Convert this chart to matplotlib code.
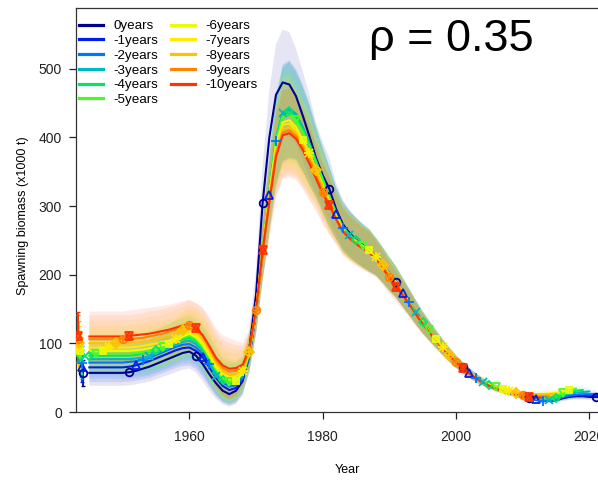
import numpy as np
import matplotlib
matplotlib.use("Agg")
import matplotlib.pyplot as plt
from matplotlib.lines import Line2D

plt.rcParams['font.family'] = ['Liberation Sans', 'DejaVu Sans']

# ---------------- data ----------------
start_year = 1945
labels = ["0years", "-1years", "-2years", "-3years", "-4years", "-5years",
          "-6years", "-7years", "-8years", "-9years", "-10years"]

sb_0 = [57, 57, 57, 57, 57, 57, 58, 60, 63, 66,
        70, 74, 78, 82, 86, 88, 82, 70, 55, 42,
        31, 26, 31, 45, 92, 170, 305, 400, 462, 480,
        477, 460, 432, 402, 370, 345, 325, 296, 274, 261,
        251, 243, 236, 227, 215, 202, 190, 175, 160, 145,
        131, 119, 107, 95, 84, 74, 65, 57, 50, 44,
        39, 35, 31, 28, 25, 22, 20, 18, 16, 16,
        17, 20, 22, 23, 23, 22, 22, 22, 22]
sb_m1 = [65, 65, 65, 65, 65, 65, 66, 68, 71, 74,
         78, 82, 86, 90, 93, 94, 89, 80, 65, 50,
         38, 32, 35, 47, 80, 145, 232, 316, 390, 432,
         440, 432, 412, 388, 362, 336, 312, 289, 272, 260,
         250, 242, 235, 226, 214, 201, 189, 174, 159, 144,
         130, 118, 106, 94, 83, 73, 64, 57, 50, 44,
         39, 35, 31, 28, 25, 22, 20, 19, 17, 17,
         18, 21, 23, 24, 24, 24, 24, 24]
sb_m2 = [72, 72, 72, 72, 72, 72, 73, 74, 76, 79,
         83, 87, 91, 95, 98, 99, 94, 84, 70, 55,
         43, 37, 39, 50, 82, 146, 234, 318, 395, 436,
         442, 434, 414, 390, 364, 338, 313, 290, 268, 259,
         250, 242, 235, 226, 214, 201, 189, 174, 160, 145,
         130, 118, 106, 94, 83, 73, 64, 57, 50, 44,
         39, 35, 31, 28, 25, 22, 20, 18, 16, 17,
         19, 22, 24, 25, 26, 26, 26]
sb_m3 = [77, 77, 77, 77, 77, 77, 77, 78, 79, 81,
         85, 89, 94, 98, 102, 104, 99, 89, 72, 53,
         44, 41, 43, 53, 84, 147, 236, 320, 398, 436,
         441, 434, 415, 392, 366, 340, 315, 291, 270, 258,
         250, 242, 235, 226, 214, 201, 189, 174, 160, 145,
         131, 118, 106, 95, 84, 74, 65, 57, 50, 44,
         39, 35, 31, 28, 25, 23, 21, 19, 18, 18,
         21, 24, 27, 28, 29, 30]
sb_m4 = [82, 82, 82, 82, 82, 82, 82, 83, 85, 88,
         91, 95, 99, 103, 106, 108, 103, 92, 76, 60,
         47, 43, 45, 55, 86, 148, 237, 321, 398, 435,
         438, 430, 412, 390, 365, 339, 314, 290, 270, 258,
         250, 242, 235, 226, 214, 201, 189, 175, 160, 145,
         131, 119, 107, 95, 84, 74, 65, 57, 50, 44,
         39, 35, 32, 29, 26, 24, 22, 20, 19, 19,
         20, 25, 28, 31, 32]
sb_m5 = [85, 85, 85, 85, 85, 85, 85, 86, 87, 89,
         91, 94, 99, 104, 108, 111, 106, 95, 79, 62,
         49, 44, 46, 56, 86, 148, 237, 320, 396, 430,
         434, 425, 408, 387, 363, 338, 313, 289, 269, 257,
         249, 242, 235, 226, 214, 201, 189, 175, 160, 145,
         131, 119, 107, 95, 84, 74, 65, 57, 50, 45,
         40, 36, 33, 30, 27, 25, 23, 22, 21, 21,
         24, 28, 31, 34]
sb_m6 = [89, 89, 89, 89, 89, 89, 89, 90, 91, 93,
         95, 97, 99, 104, 110, 114, 109, 98, 82, 65,
         52, 47, 45, 57, 87, 148, 237, 318, 390, 422,
         425, 415, 396, 376, 354, 331, 308, 286, 268, 256,
         248, 241, 236, 226, 214, 201, 189, 174, 159, 144,
         130, 118, 107, 95, 84, 74, 65, 57, 50, 45,
         40, 36, 33, 30, 28, 26, 25, 24, 24, 25,
         27, 30, 32]
sb_m7 = [94, 94, 94, 94, 94, 94, 94, 95, 96, 98,
         100, 102, 104, 107, 113, 118, 113, 102, 86, 69,
         56, 51, 52, 59, 88, 148, 236, 316, 386, 418,
         420, 410, 394, 377, 353, 330, 307, 285, 267, 256,
         248, 241, 235, 226, 214, 201, 189, 174, 159, 144,
         130, 118, 106, 95, 84, 74, 65, 57, 50, 45,
         40, 36, 33, 31, 29, 27, 26, 26, 26, 27,
         28, 30]
sb_m8 = [100, 100, 100, 100, 100, 100, 100, 101, 102, 104,
         106, 108, 111, 115, 119, 122, 117, 106, 90, 72,
         60, 55, 56, 62, 88, 147, 234, 312, 380, 412,
         415, 406, 390, 372, 352, 328, 305, 284, 266, 255,
         247, 240, 234, 225, 214, 201, 189, 174, 159, 144,
         130, 118, 106, 94, 83, 73, 64, 56, 49, 44,
         39, 35, 32, 30, 28, 27, 26, 26, 26, 26,
         26]
sb_m9 = [106, 106, 106, 106, 106, 106, 106, 107, 108, 110,
         112, 114, 117, 120, 124, 127, 122, 111, 94, 76,
         64, 59, 60, 66, 90, 148, 232, 308, 375, 407,
         410, 402, 386, 368, 345, 321, 301, 282, 264, 254,
         246, 239, 233, 224, 212, 197, 187, 172, 158, 143,
         129, 117, 105, 94, 83, 73, 64, 56, 49, 43,
         38, 34, 31, 29, 27, 25, 24, 23, 23, 23]
sb_m10 = [110, 110, 110, 110, 110, 110, 111, 112, 113, 114,
          116, 118, 120, 123, 126, 128, 122, 112, 96, 79,
          68, 63, 64, 69, 92, 150, 236, 305, 372, 403,
          406, 398, 382, 362, 340, 318, 301, 281, 263, 253,
          245, 238, 232, 223, 210, 195, 182, 170, 157, 142,
          128, 116, 104, 93, 82, 72, 64, 56, 49, 43,
          38, 34, 31, 28, 26, 24, 22, 21, 21]

# relative half-width of the uncertainty band, by year from start_year
band_rel = [0.33, 0.33, 0.33, 0.33, 0.33, 0.33, 0.33, 0.33, 0.33, 0.33,
            0.32, 0.31, 0.30, 0.29, 0.28, 0.28, 0.30, 0.36, 0.44, 0.54,
            0.64, 0.70, 0.62, 0.45, 0.30, 0.22, 0.18, 0.17, 0.16, 0.16,
            0.16, 0.15, 0.15, 0.15, 0.14, 0.14, 0.14, 0.13, 0.13, 0.13,
            0.13, 0.13, 0.13, 0.12, 0.12, 0.12, 0.12, 0.12, 0.12, 0.12,
            0.12, 0.12, 0.12, 0.12, 0.12, 0.12, 0.12, 0.12, 0.12, 0.12,
            0.12, 0.12, 0.12, 0.13, 0.13, 0.14, 0.15, 0.16, 0.17, 0.18,
            0.19, 0.20, 0.20, 0.20, 0.20, 0.21, 0.21, 0.22, 0.22]

rho_text = "\u03c1 = 0.35"
x_ticks = [1960, 1980, 2000, 2020]
y_ticks = [0, 100, 200, 300, 400, 500]

series = [sb_0, sb_m1, sb_m2, sb_m3, sb_m4, sb_m5,
          sb_m6, sb_m7, sb_m8, sb_m9, sb_m10]

# ---------------- colours (r4ss rich.colors.short) ----------------
xc = np.linspace(0, 1, len(series) + 1)
rr = 1 / (1 + np.exp(20 - 35 * xc))
gg = np.clip(-0.8 + 6 * xc - 5 * xc ** 2, 0, 1)
bb = np.exp(-(xc - 0.25) ** 2 / (2 * 0.15 ** 2))
bb = bb / bb.max()
cols = [tuple(c) for c in np.column_stack([rr, gg, bb])[1:]]

W, H = 598, 482
fig = plt.figure(figsize=(W / 100, H / 100), dpi=100)
ax = fig.add_axes([76 / W, 70 / H, 540 / W, 404 / H])
ax.set_xlim(1943, 2024)
ax.set_ylim(0, 588.4)


def draw_markers(xs, ys, i, col):
    kw = dict(linestyle='none', color=col, markersize=5.5, mew=1.3, zorder=4)
    open_kw = dict(kw, mfc='none', mec=col)
    if i == 0:
        ax.plot(xs, ys, marker='o', **open_kw)
    elif i == 1:
        ax.plot(xs, ys, marker='^', **open_kw)
    elif i == 2:
        ax.plot(xs, ys, marker='+', **dict(kw, markersize=7))
    elif i == 3:
        ax.plot(xs, ys, marker='x', **kw)
    elif i == 4:
        ax.plot(xs, ys, marker='D', **dict(open_kw, markersize=4.5))
    elif i == 5:
        ax.plot(xs, ys, marker='v', **open_kw)
    elif i == 6:
        ax.plot(xs, ys, marker='s', **dict(open_kw, markersize=5))
        ax.plot(xs, ys, marker='x', **dict(kw, markersize=5))
    elif i == 7:
        ax.plot(xs, ys, marker='+', **dict(kw, markersize=7))
        ax.plot(xs, ys, marker='x', **kw)
    elif i == 8:
        ax.plot(xs, ys, marker='D', **dict(open_kw, markersize=5))
        ax.plot(xs, ys, marker='+', **dict(kw, markersize=7))
    elif i == 9:
        ax.plot(xs, ys, marker='o', **open_kw)
        ax.plot(xs, ys, marker='+', **dict(kw, markersize=5.5))
    else:
        ax.plot(xs, ys, marker='^', **open_kw)
        ax.plot(xs, ys, marker='v', **open_kw)


# bands
for i, vals in enumerate(series):
    v = np.asarray(vals, float)
    yrs = np.arange(start_year, start_year + len(v))
    rel = np.asarray(band_rel[:len(v)])
    ax.fill_between(yrs, v * (1 - rel), v * (1 + rel), facecolor=cols[i],
                    alpha=0.1, linewidth=0, edgecolor='none', zorder=1)

# lines, markers, virgin points
for i, vals in enumerate(series):
    v = np.asarray(vals, float)
    yrs = np.arange(start_year, start_year + len(v))
    ax.plot(yrs, v, color=cols[i], lw=1.5, zorder=3)
    mask = ((yrs - 1951 - i) % 10) == 0
    draw_markers(yrs[mask], v[mask], i, cols[i])
    xb = 1944.0 - 0.07 * i
    ax.errorbar([xb], [v[0]], yerr=[[v[0] * band_rel[0]], [v[0] * band_rel[0]]],
                fmt='none', ecolor=cols[i], elinewidth=1.3, capsize=1.5, zorder=3)
    draw_markers([xb], [v[0]], i, cols[i])

ax.set_xticks(x_ticks)
ax.set_yticks(y_ticks)
ax.tick_params(axis='both', direction='out', length=5, width=0.9,
               labelsize=10, colors='#222222')
ax.tick_params(axis='x', pad=8)
ax.tick_params(axis='y', pad=5)
for s in ax.spines.values():
    s.set_linewidth(0.9)
    s.set_color('#333333')

fig.text(347 / W, 1 - 470 / H, "Year", fontsize=9, ha='center', va='center')
fig.text(23.5 / W, 1 - 216 / H, "Spawning biomass (x1000 t)", fontsize=9,
         ha='center', va='center', rotation=90)

fig.text(369 / W, 1 - 39 / H, rho_text, fontsize=32.5, ha='left', va='center')

handles = [Line2D([0], [0], color=cols[i], lw=2.3) for i in range(len(series))]
ax.legend(handles, labels, ncol=2, loc='upper left',
          bbox_to_anchor=(79 / W, 1 - 20 / H), bbox_transform=fig.transFigure,
          frameon=False, fontsize=9.6, borderpad=0, borderaxespad=0,
          handlelength=1.8, handletextpad=0.8, columnspacing=0.9,
          labelspacing=0.18)

fig.savefig("out.png", dpi=100)
